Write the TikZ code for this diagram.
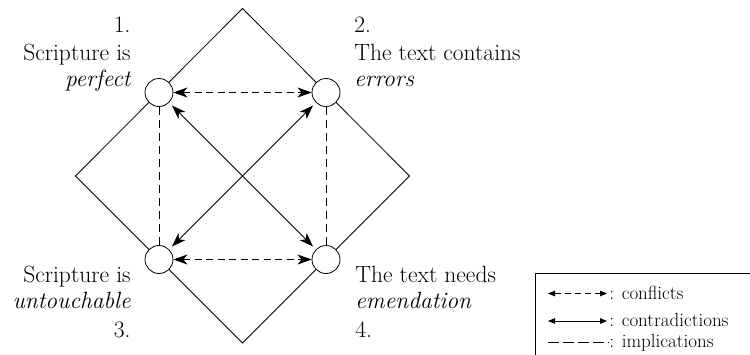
\documentclass[tikz,border=0pt]{standalone}
\usetikzlibrary{arrows.meta}
\begin{document}
\begin{tikzpicture}[x=1pt,y=-1pt,line width=0.8pt,
  state/.style={circle,draw,fill=white,minimum size=28pt,inner sep=0pt},
  lbl/.style={inner sep=0pt,font=\fontsize{23.5}{27}\selectfont},
  leg/.style={inner sep=0pt,font=\fontsize{19}{22}\selectfont},
  dsh/.style={dash pattern=on 7pt off 4.5pt},
  bigtip/.style={{Stealth[length=14pt,width=10pt,inset=4pt]}-{Stealth[length=14pt,width=10pt,inset=4pt]}},
  smalltip/.style={{Triangle[length=7pt,width=5.5pt]}-{Triangle[length=7pt,width=5.5pt]}}
]
\useasboundingbox (0,0) rectangle (750,354);
\clip (0,0) rectangle (750,354);

% diamond
\coordinate (top) at (242.5,8.5);
\coordinate (right) at (409.5,176);
\coordinate (bottom) at (242.5,343);
\coordinate (left) at (75.5,176);
\draw (top) -- (right) -- (bottom) -- (left) -- cycle;

% states
\node[state] (s1) at (159,92.5) {};
\node[state] (s2) at (326,92.5) {};
\node[state] (s3) at (159,259.5) {};
\node[state] (s4) at (326,259.5) {};

% implications
\draw[dash pattern=on 8pt off 5pt] (s1) -- (s3);
\draw[dash pattern=on 8pt off 5pt] (s2) -- (s4);
% conflicts
\draw[dsh,bigtip] (s1) -- (s2);
\draw[dsh,bigtip] (s3) -- (s4);
% contradictions
\draw[bigtip,shorten <=4pt,shorten >=4pt] (s1) -- (s4);
\draw[bigtip,shorten <=4pt,shorten >=4pt] (s2) -- (s3);

% labels
\node[lbl,anchor=base east] (l1a) at (131,32) {1.};
\node[lbl,anchor=base east] (l1b) at (131,60) {Scripture is};
\node[lbl,anchor=base east] (l1c) at (131,86) {\itshape perfect};

\node[lbl,anchor=base west] (l2a) at (354,32) {2.};
\node[lbl,anchor=base west] (l2b) at (354,60) {The text contains};
\node[lbl,anchor=base west] (l2c) at (354,86) {\itshape errors};

\node[lbl,anchor=base east] (l3a) at (131,282) {Scripture is};
\node[lbl,anchor=base east] (l3b) at (131,308) {\itshape untouchable};
\node[lbl,anchor=base east] (l3c) at (131,337) {3.};

\node[lbl,anchor=base west] (l4a) at (355,282) {The text needs};
\node[lbl,anchor=base west] (l4b) at (355,308) {\itshape emendation};
\node[lbl,anchor=base west] (l4c) at (355,337) {4.};

% legend
\coordinate (bl) at (535,360);
\coordinate (tr) at (760,273);
\draw[line width=0.7pt] (bl) |- (tr);
\coordinate (a1) at (548,293.5);
\coordinate (b1) at (607,293.5);
\coordinate (a2) at (548,321);
\coordinate (b2) at (607,321);
\coordinate (a3) at (548,342);
\coordinate (b3) at (609,342);
\draw[smalltip,dash pattern=on 6pt off 4pt] (a1) -- (b1);
\draw[smalltip] (a2) -- (b2);
\draw[dash pattern=on 11pt off 4pt] (a3) -- (b3);
\node[leg,anchor=base west] (t1) at (609,299) {: conflicts};
\node[leg,anchor=base west] (t2) at (609,326) {: contradictions};
\node[leg,anchor=base west] (t3) at (609,347) {: implications};
\end{tikzpicture}
\end{document}
